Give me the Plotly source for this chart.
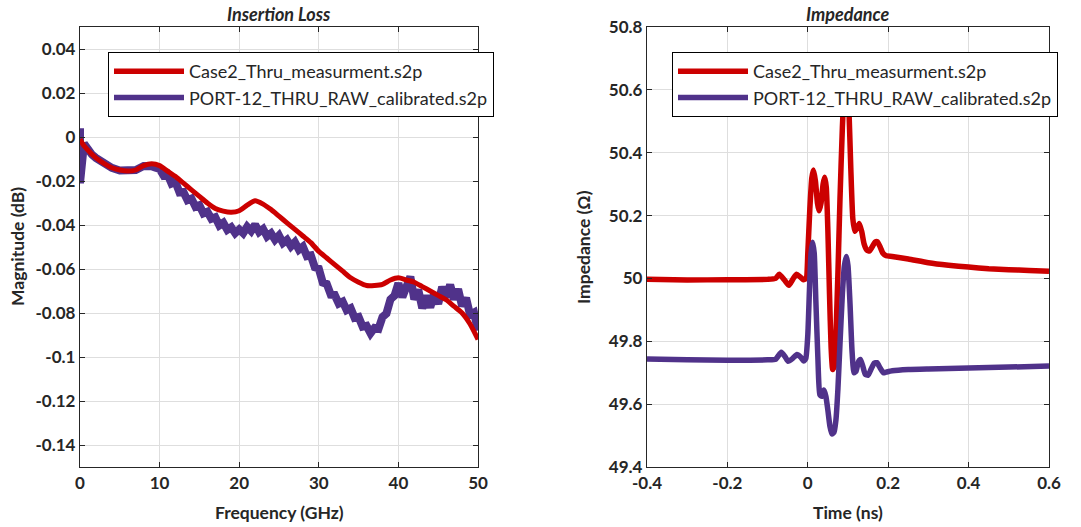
import plotly.graph_objects as go

# ---- Insertion loss (dB) vs frequency (GHz) ----
case2_freq = [0, 0.5, 1, 2, 3, 4, 5, 6, 7, 8, 9, 10, 11, 12, 13, 14, 15, 16, 17, 18,
              19, 20, 21, 22, 23, 24, 25, 26, 27, 28, 29, 30, 31, 32, 33, 34, 35, 36,
              37, 38, 39, 40, 41, 42, 43, 44, 45, 46, 47, 48, 49, 50]
case2_il = [-0.001, -0.004, -0.006, -0.0095, -0.012, -0.014, -0.015, -0.0155, -0.015,
            -0.013, -0.0122, -0.013, -0.0155, -0.018, -0.021, -0.024, -0.027, -0.030,
            -0.0325, -0.0337, -0.0342, -0.0335, -0.031, -0.029, -0.0305, -0.033, -0.036,
            -0.039, -0.042, -0.045, -0.048, -0.052, -0.055, -0.058, -0.061, -0.064,
            -0.066, -0.0675, -0.0675, -0.067, -0.065, -0.064, -0.065, -0.066, -0.068,
            -0.070, -0.072, -0.074, -0.077, -0.080, -0.085, -0.092]

port12_freq = [0, 0, 0.5, 1, 1.5, 2, 3, 4, 5, 6, 7, 8, 8.5, 9, 9.5,
               10, 10.5, 11, 11.5, 12, 12.5, 13, 13.5, 14, 14.5, 15, 15.5, 16, 16.5,
               17, 17.5, 18, 18.5, 19, 19.5, 20, 20.5, 21, 21.5, 22, 22.5, 23, 23.5,
               24, 24.5, 25, 25.5, 26, 26.5, 27, 27.5, 28, 28.5, 29, 29.5, 30, 30.5,
               31, 31.5, 32, 32.5, 33, 33.5, 34, 34.5, 35, 35.5, 36, 36.5, 37, 37.5,
               38, 38.5, 39, 39.5, 40, 40.5, 41, 41.5, 42, 42.5, 43, 43.5, 44, 44.5,
               45, 45.5, 46, 46.5, 47, 47.5, 48, 48.5, 49, 49.5, 50]
port12_il = [0.004, -0.021, -0.003, -0.006, -0.008, -0.0095, -0.0122, -0.014, -0.0152,
             -0.0155, -0.015, -0.0132, -0.0128, -0.0133, -0.014,
             -0.0145, -0.0175, -0.0170, -0.0212, -0.0205, -0.0252, -0.0250, -0.0287,
             -0.0280, -0.0317, -0.0310, -0.0347, -0.0340, -0.0372, -0.0365, -0.0402,
             -0.0390, -0.0422, -0.0410, -0.0437, -0.0420, -0.0437, -0.0408, -0.0427,
             -0.0398, -0.0432, -0.0418, -0.0452, -0.0438, -0.0467, -0.0448, -0.0482,
             -0.0468, -0.0497, -0.0478, -0.0512, -0.0498, -0.0542, -0.0538, -0.0592,
             -0.0598, -0.0662, -0.0668, -0.0717, -0.0718, -0.0757, -0.0748, -0.0787,
             -0.0778, -0.0822, -0.0818, -0.0862, -0.0858, -0.0892, -0.0868, -0.0872,
             -0.0818, -0.0802, -0.0738, -0.0722, -0.0665, -0.0728, -0.0685, -0.0635,
             -0.0738, -0.0695, -0.0778, -0.0722, -0.0775, -0.0712, -0.0758, -0.0682,
             -0.0728, -0.0672, -0.0738, -0.0692, -0.0768, -0.0732, -0.0808, -0.0798,
             -0.0880]

# ---- TDR impedance (ohm) vs time (ns) ----
case2_t = [-0.40, -0.30, -0.20, -0.10, -0.08, -0.071, -0.058, -0.047, -0.037, -0.028,
           -0.019, -0.011, -0.004, 0.000, 0.005, 0.010, 0.014, 0.019, 0.024, 0.028,
           0.033, 0.038, 0.042, 0.046, 0.050, 0.054, 0.058, 0.062, 0.066, 0.070, 0.075,
           0.080, 0.086, 0.092, 0.097, 0.102, 0.107, 0.112, 0.117, 0.122, 0.128, 0.134,
           0.140, 0.147, 0.153, 0.160, 0.167, 0.173, 0.180, 0.187, 0.195, 0.210, 0.25,
           0.30, 0.35, 0.40, 0.45, 0.50, 0.55, 0.60]
case2_z = [49.997, 49.995, 49.996, 49.997, 50.000, 50.013, 49.995, 49.978, 49.998,
           50.013, 50.005, 49.996, 50.000, 50.08, 50.22, 50.32, 50.345, 50.31, 50.24,
           50.215, 50.24, 50.30, 50.322, 50.29, 50.15, 49.95, 49.78, 49.71, 49.72, 49.82,
           50.02, 50.25, 50.48, 50.63, 50.67, 50.55, 50.35, 50.19, 50.15, 50.16, 50.175,
           50.15, 50.11, 50.09, 50.087, 50.10, 50.115, 50.117, 50.10, 50.08, 50.072,
           50.070, 50.062, 50.050, 50.042, 50.036, 50.031, 50.028, 50.025, 50.023]

port12_t = [-0.40, -0.30, -0.20, -0.10, -0.08, -0.066, -0.057, -0.049, -0.038, -0.027,
            -0.018, -0.010, -0.005, 0.000, 0.004, 0.008, 0.012, 0.016, 0.020, 0.025,
            0.030, 0.035, 0.040, 0.045, 0.050, 0.055, 0.060, 0.065, 0.070, 0.075, 0.080,
            0.086, 0.091, 0.096, 0.100, 0.105, 0.110, 0.115, 0.120, 0.126, 0.131, 0.137,
            0.143, 0.150, 0.157, 0.165, 0.172, 0.180, 0.188, 0.195, 0.21, 0.25, 0.30,
            0.40, 0.50, 0.60]
port12_z = [49.744, 49.741, 49.740, 49.741, 49.743, 49.765, 49.752, 49.736, 49.745,
            49.758, 49.750, 49.737, 49.745, 49.82, 49.96, 50.08, 50.115, 50.08, 49.93,
            49.75, 49.63, 49.625, 49.645, 49.625, 49.58, 49.53, 49.505, 49.51, 49.55,
            49.65, 49.79, 49.95, 50.04, 50.07, 50.04, 49.92, 49.77, 49.70, 49.705,
            49.735, 49.742, 49.72, 49.695, 49.692, 49.71, 49.73, 49.732, 49.715, 49.70,
            49.702, 49.706, 49.710, 49.712, 49.715, 49.718, 49.721]

NAMES = ["Case2_Thru_measurment.s2p", "PORT-12_THRU_RAW_calibrated.s2p"]
RED = "#cc0000"
PURPLE = "#50328a"
FONT = "Lato"
INK = "#262626"

W, H = 1081, 527

fig = go.Figure()
# left panel: purple drawn first so the red curve sits on top
fig.add_trace(go.Scatter(x=port12_freq, y=port12_il, mode="lines", name=NAMES[1],
                         line=dict(color=PURPLE, width=8), xaxis="x", yaxis="y",
                         showlegend=False))
fig.add_trace(go.Scatter(x=case2_freq, y=case2_il, mode="lines", name=NAMES[0],
                         line=dict(color=RED, width=5, shape="spline", smoothing=0.6),
                         xaxis="x", yaxis="y", showlegend=False))
# legend entries for the left panel (same stroke for both files)
for name, color in zip(NAMES, [RED, PURPLE]):
    fig.add_trace(go.Scatter(x=[None], y=[None], mode="lines", name=name,
                             line=dict(color=color, width=5.5), xaxis="x", yaxis="y",
                             legend="legend"))
fig.add_trace(go.Scatter(x=case2_t, y=case2_z, mode="lines", name=NAMES[0],
                         line=dict(color=RED, width=5.5, shape="spline", smoothing=0.5),
                         xaxis="x2", yaxis="y2", legend="legend2"))
fig.add_trace(go.Scatter(x=port12_t, y=port12_z, mode="lines", name=NAMES[1],
                         line=dict(color=PURPLE, width=5.5, shape="spline", smoothing=0.5),
                         xaxis="x2", yaxis="y2", legend="legend2"))

ax_common = dict(showgrid=True, gridcolor="#dedede", gridwidth=1, zeroline=False,
                 showline=True, linecolor=INK, linewidth=1.3, mirror="ticks",
                 ticks="inside", ticklen=5, tickcolor=INK, automargin=False,
                 tickfont=dict(family=FONT, size=17, color=INK, weight="bold"))

y_dom = [(H - 467) / H, (H - 27) / H]
legend_common = dict(yanchor="top", xanchor="left", y=1 - 52 / H,
                     bgcolor="white", bordercolor="#000000", borderwidth=1,
                     font=dict(family=FONT, size=18, color=INK),
                     itemwidth=70, tracegroupgap=0)
fig.update_layout(
    width=W, height=H,
    margin=dict(l=0, r=0, t=0, b=0),
    paper_bgcolor="white", plot_bgcolor="white",
    font=dict(family=FONT, color=INK),
    xaxis=dict(domain=[80 / W, 478 / W], range=[0, 50], tickvals=[0, 10, 20, 30, 40, 50],
               anchor="y", **ax_common),
    yaxis=dict(domain=y_dom, range=[-0.15, 0.05],
               tickvals=[-0.14, -0.12, -0.1, -0.08, -0.06, -0.04, -0.02, 0, 0.02, 0.04],
               ticktext=["-0.14", "-0.12", "-0.1", "-0.08", "-0.06", "-0.04", "-0.02",
                         "0", "0.02", "0.04"],
               anchor="x", **ax_common),
    xaxis2=dict(domain=[647 / W, 1049 / W], range=[-0.4, 0.6],
                tickvals=[-0.4, -0.2, 0, 0.2, 0.4, 0.6],
                ticktext=["-0.4", "-0.2", "0", "0.2", "0.4", "0.6"],
                anchor="y2", **ax_common),
    yaxis2=dict(domain=y_dom, range=[49.4, 50.8],
                tickvals=[49.4, 49.6, 49.8, 50, 50.2, 50.4, 50.6, 50.8],
                ticktext=["49.4", "49.6", "49.8", "50", "50.2", "50.4", "50.6", "50.8"],
                anchor="x2", **ax_common),
    legend=dict(x=108 / W, **legend_common),
    legend2=dict(x=672 / W, **legend_common),
    showlegend=True,
)


def text(x, y, s, size, italic=False, angle=0):
    s2 = f"<b>{s}</b>"
    if italic:
        s2 = f"<i>{s2}</i>"
    fig.add_annotation(x=x / W, y=1 - y / H, xref="paper", yref="paper", text=s2,
                       showarrow=False, textangle=angle, xanchor="center",
                       yanchor="middle", font=dict(family=FONT, size=size, color=INK))


text(279, 14, "Insertion Loss", 18, italic=True)
text(848, 14, "Impedance", 18, italic=True)
text(279, 512, "Frequency (GHz)", 17.5)
text(848, 512, "Time (ns)", 17.5)
text(17, 247, "Magnitude (dB)", 17.5, angle=-90)
text(583, 247, "Impedance (Ω)", 17.5, angle=-90)

fig.write_html("out.html")
